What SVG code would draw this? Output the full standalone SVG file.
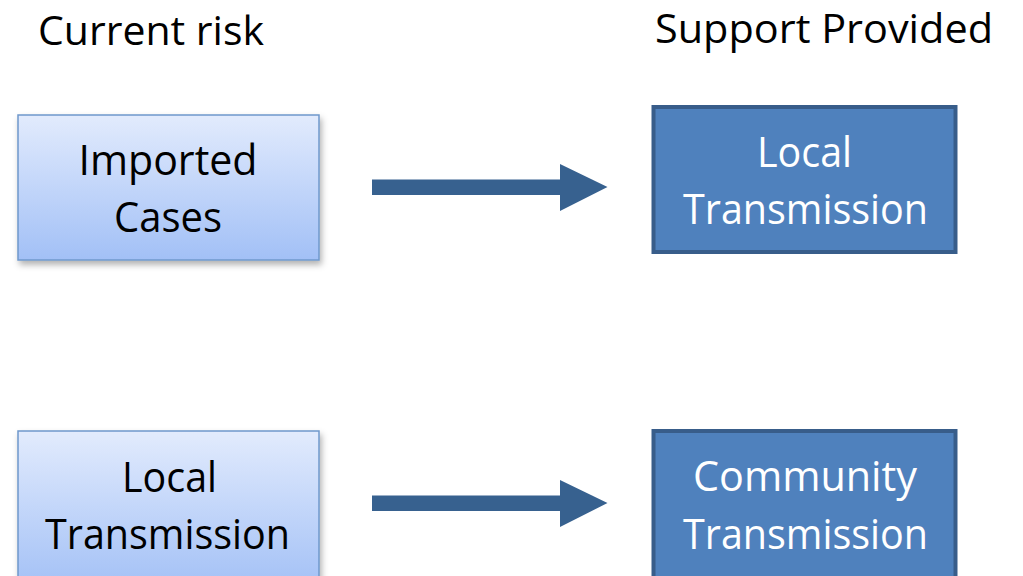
<svg xmlns="http://www.w3.org/2000/svg" width="1023" height="576" viewBox="0 0 1023 576">
<defs>
<linearGradient id="lg" x1="0" y1="0" x2="0" y2="1">
<stop offset="0" stop-color="#E2EBFD"/>
<stop offset="1" stop-color="#A2C0F6"/>
</linearGradient>
<filter id="sh" x="-10%" y="-10%" width="125%" height="135%">
<feDropShadow dx="2" dy="4" stdDeviation="3" flood-color="#000" flood-opacity="0.3"/>
</filter>
</defs>
<style>
.t{font-family:"Open Sans","Noto Sans","Liberation Sans",sans-serif;font-size:42px;text-anchor:middle}
.h{font-family:"Open Sans","Noto Sans","Liberation Sans",sans-serif;font-size:40px}
.lb{fill:url(#lg);stroke:#6F98CC;stroke-width:1.5;filter:url(#sh)}
.db{fill:#4F81BD;stroke:#385D8A;stroke-width:4}
.dk{fill:#000}
.wt{fill:#fff}
.ar{fill:#37618F}
</style>
<rect width="1023" height="576" fill="#fff"/>
<text class="h" x="38" y="45" textLength="226" lengthAdjust="spacingAndGlyphs">Current risk</text>
<text class="h" x="655" y="43" textLength="338" lengthAdjust="spacingAndGlyphs">Support Provided</text>
<g id="imported">
<rect class="lb" x="18" y="115" width="301" height="145"/>
<text class="t dk" x="168" y="175" textLength="179" lengthAdjust="spacingAndGlyphs">Imported</text>
<text class="t dk" x="168" y="232" textLength="108" lengthAdjust="spacingAndGlyphs">Cases</text>
</g>
<g id="local-support">
<rect class="db" x="653.5" y="107" width="302" height="145"/>
<text class="t wt" x="804.5" y="167" textLength="95" lengthAdjust="spacingAndGlyphs">Local</text>
<text class="t wt" x="805.5" y="224" textLength="245" lengthAdjust="spacingAndGlyphs">Transmission</text>
</g>
<g id="local-risk">
<rect class="lb" x="18" y="431" width="301" height="160"/>
<text class="t dk" x="169.5" y="492" textLength="95" lengthAdjust="spacingAndGlyphs">Local</text>
<text class="t dk" x="167.5" y="549" textLength="245" lengthAdjust="spacingAndGlyphs">Transmission</text>
</g>
<g id="community">
<rect class="db" x="653.5" y="431" width="302" height="160"/>
<text class="t wt" x="805" y="491" textLength="224" lengthAdjust="spacingAndGlyphs">Community</text>
<text class="t wt" x="805.5" y="549" textLength="245" lengthAdjust="spacingAndGlyphs">Transmission</text>
</g>
<g id="connectors">
<polygon class="ar" points="372,179.5 560,179.5 560,164 607.5,187 560,211 560,195 372,195"/>
<polygon class="ar" points="372,495.5 560,495.5 560,480 607.5,503 560,527 560,511 372,511"/>
</g>
</svg>
